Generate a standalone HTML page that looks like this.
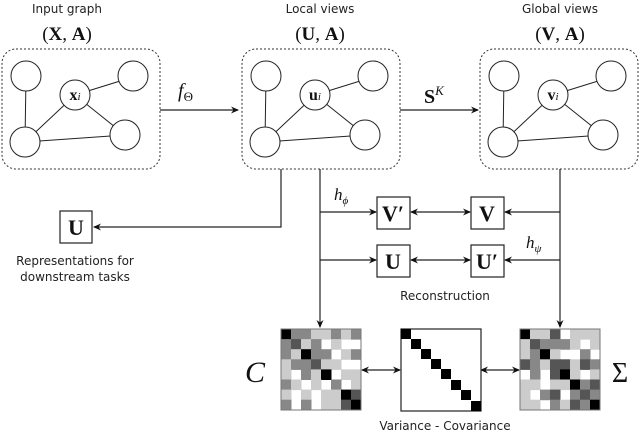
<!DOCTYPE html>
<html><head><meta charset="utf-8"><style>
body{margin:0;background:#fff}
svg{display:block}
.s{font-family:"DejaVu Sans","Liberation Sans",sans-serif;font-size:12px;fill:#222}
.m{font-family:"Liberation Serif",serif;fill:#111}
.k0{fill:#000}.k1{fill:#555}.k2{fill:#888}.k3{fill:#ccc}
</style></head><body>
<svg width="640" height="431" viewBox="0 0 640 431" xmlns="http://www.w3.org/2000/svg">
<defs>
<marker id="a" markerWidth="8" markerHeight="8" refX="7" refY="4" orient="auto-start-reverse" markerUnits="userSpaceOnUse"><path d="M0,0.5 L8,4 L0,7.5 L2.5,4z" fill="#111"/></marker>
<g id="g">
<rect x="2" y="49" width="158" height="120" rx="14" fill="none" stroke="#333" stroke-dasharray="2,2"/>
<g stroke="#222" fill="none">
<line x1="26" y1="76" x2="25" y2="142"/>
<line x1="25" y1="142" x2="75" y2="95"/>
<line x1="25" y1="142" x2="125" y2="135"/>
<line x1="75" y1="95" x2="125" y2="135"/>
<line x1="75" y1="95" x2="133" y2="77"/>
</g>
<g stroke="#222" fill="#fff">
<circle cx="26" cy="76" r="15"/><circle cx="133" cy="76" r="15"/><circle cx="75" cy="95" r="15"/><circle cx="25" cy="142" r="15"/><circle cx="125" cy="135" r="15"/>
</g>
</g>
</defs>
<text class="s" x="67" y="13" text-anchor="middle">Input graph</text>
<text class="s" x="320" y="13" text-anchor="middle">Local views</text>
<text class="s" x="560" y="13" text-anchor="middle">Global views</text>
<text class="m" x="67" y="40" text-anchor="middle" font-size="19">(<tspan font-weight="bold">X</tspan>, <tspan font-weight="bold">A</tspan>)</text>
<text class="m" x="320" y="40" text-anchor="middle" font-size="19">(<tspan font-weight="bold">U</tspan>, <tspan font-weight="bold">A</tspan>)</text>
<text class="m" x="560" y="40" text-anchor="middle" font-size="19">(<tspan font-weight="bold">V</tspan>, <tspan font-weight="bold">A</tspan>)</text>
<use href="#g"/>
<use href="#g" x="240"/>
<use href="#g" x="478"/>
<text class="m" x="75" y="100" text-anchor="middle" font-size="16"><tspan font-weight="bold">x</tspan><tspan font-style="italic" font-size="11">i</tspan></text>
<text class="m" x="315" y="100" text-anchor="middle" font-size="16"><tspan font-weight="bold">u</tspan><tspan font-style="italic" font-size="11">i</tspan></text>
<text class="m" x="553" y="100" text-anchor="middle" font-size="16"><tspan font-weight="bold">v</tspan><tspan font-style="italic" font-size="11">i</tspan></text>
<g stroke="#222" fill="none" stroke-width="1.2">
<line x1="160" y1="110" x2="238" y2="110" marker-end="url(#a)"/>
<line x1="400" y1="110" x2="478" y2="110" marker-end="url(#a)"/>
<polyline points="281,169 281,227 94,227" marker-end="url(#a)"/>
<line x1="320" y1="169" x2="320" y2="327" marker-end="url(#a)"/>
<line x1="560" y1="169" x2="560" y2="327" marker-end="url(#a)"/>
<line x1="320" y1="212" x2="376" y2="212" marker-end="url(#a)"/>
<line x1="320" y1="260" x2="376" y2="260" marker-end="url(#a)"/>
<line x1="560" y1="212" x2="505" y2="212" marker-end="url(#a)"/>
<line x1="560" y1="260" x2="505" y2="260" marker-end="url(#a)"/>
<line x1="411" y1="212" x2="470" y2="212" marker-start="url(#a)" marker-end="url(#a)"/>
<line x1="411" y1="260" x2="470" y2="260" marker-start="url(#a)" marker-end="url(#a)"/>
<line x1="362" y1="370" x2="400" y2="370" marker-start="url(#a)" marker-end="url(#a)"/>
<line x1="481" y1="370" x2="519" y2="370" marker-start="url(#a)" marker-end="url(#a)"/>
</g>
<text class="m" x="178" y="97" font-size="20" font-style="italic">f<tspan font-size="13" font-style="normal" dy="4">Θ</tspan></text>
<text class="m" x="424" y="103" font-size="20" font-weight="bold">S<tspan font-size="13" font-style="italic" font-weight="normal" dy="-8">K</tspan></text>
<text class="m" x="334" y="200" font-size="17" font-style="italic">h<tspan font-size="11" dy="4">ϕ</tspan></text>
<text class="m" x="526" y="248" font-size="17" font-style="italic">h<tspan font-size="11" dy="4">ψ</tspan></text>
<g stroke="#222" fill="#fff" stroke-width="1.2">
<rect x="60" y="211" width="32" height="32"/>
<rect x="377" y="197" width="33" height="32"/>
<rect x="471" y="197" width="33" height="32"/>
<rect x="377" y="245" width="33" height="32"/>
<rect x="471" y="245" width="33" height="32"/>
</g>
<g class="m" font-size="22" font-weight="bold" text-anchor="middle">
<text x="76" y="235">U</text>
<text x="393" y="221">V′</text>
<text x="487" y="221">V</text>
<text x="393" y="269">U</text>
<text x="487" y="269">U′</text>
</g>
<text class="s" x="75" y="265" text-anchor="middle">Representations for</text>
<text class="s" x="75" y="281" text-anchor="middle">downstream tasks</text>
<text class="s" x="445" y="300" text-anchor="middle">Reconstruction</text>
<text class="s" x="445" y="430" text-anchor="middle">Variance - Covariance</text>
<text class="m" x="255" y="382" font-size="30" font-style="italic" text-anchor="middle">C</text>
<text class="m" x="620" y="382" font-size="28" text-anchor="middle">Σ</text>

<g transform="translate(281,329) scale(10,10.1)">
<rect class="k0" x="0" y="0" width="1.05" height="1.05"/><rect class="k2" x="1" y="0" width="1.05" height="1.05"/><rect class="k2" x="2" y="0" width="1.05" height="1.05"/><rect class="k3" x="3" y="0" width="1.05" height="1.05"/><rect class="k3" x="4" y="0" width="1.05" height="1.05"/><rect class="k2" x="5" y="0" width="1.05" height="1.05"/><rect class="k3" x="6" y="0" width="1.05" height="1.05"/><rect class="k2" x="7" y="0" width="1" height="1.05"/>
<rect class="k2" x="0" y="1" width="1.05" height="1.05"/><rect class="k1" x="1" y="1" width="1.05" height="1.05"/><rect class="k3" x="2" y="1" width="1.05" height="1.05"/><rect class="k2" x="3" y="1" width="1.05" height="1.05"/><rect class="k3" x="5" y="1" width="1.05" height="1.05"/>
<rect class="k2" x="0" y="2" width="1.05" height="1.05"/><rect class="k3" x="1" y="2" width="1.05" height="1.05"/><rect class="k0" x="2" y="2" width="1.05" height="1.05"/><rect class="k2" x="3" y="2" width="1.05" height="1.05"/><rect class="k2" x="4" y="2" width="1.05" height="1.05"/><rect class="k3" x="6" y="2" width="1.05" height="1.05"/><rect class="k2" x="7" y="2" width="1" height="1.05"/>
<rect class="k3" x="0" y="3" width="1.05" height="1.05"/><rect class="k2" x="1" y="3" width="1.05" height="1.05"/><rect class="k2" x="2" y="3" width="1.05" height="1.05"/><rect class="k1" x="3" y="3" width="1.05" height="1.05"/><rect class="k3" x="4" y="3" width="1.05" height="1.05"/><rect class="k3" x="5" y="3" width="1.05" height="1.05"/>
<rect class="k3" x="0" y="4" width="1.05" height="1.05"/><rect class="k2" x="2" y="4" width="1.05" height="1.05"/><rect class="k3" x="3" y="4" width="1.05" height="1.05"/><rect class="k0" x="4" y="4" width="1.05" height="1.05"/><rect class="k3" x="6" y="4" width="1.05" height="1.05"/><rect class="k3" x="7" y="4" width="1" height="1.05"/>
<rect class="k2" x="0" y="5" width="1.05" height="1.05"/><rect class="k3" x="1" y="5" width="1.05" height="1.05"/><rect class="k3" x="3" y="5" width="1.05" height="1.05"/><rect class="k2" x="5" y="5" width="1.05" height="1.05"/><rect class="k3" x="7" y="5" width="1" height="1.05"/>
<rect class="k3" x="0" y="6" width="1.05" height="1.05"/><rect class="k3" x="2" y="6" width="1.05" height="1.05"/><rect class="k3" x="4" y="6" width="1.05" height="1.05"/><rect class="k3" x="5" y="6" width="1.05" height="1.05"/><rect class="k0" x="6" y="6" width="1.05" height="1.05"/><rect class="k1" x="7" y="6" width="1" height="1.05"/>
<rect class="k2" x="0" y="7" width="1.05" height="1"/><rect class="k2" x="2" y="7" width="1.05" height="1"/><rect class="k3" x="4" y="7" width="1.05" height="1"/><rect class="k3" x="5" y="7" width="1.05" height="1"/><rect class="k1" x="6" y="7" width="1.05" height="1"/><rect class="k0" x="7" y="7" width="1" height="1"/>
</g>
<rect x="281" y="329" width="80" height="81" fill="none" stroke="#777"/>

<g transform="translate(520,329) scale(10,10.1)">
<rect class="k0" x="0" y="0" width="1.05" height="1.05"/><rect class="k3" x="1" y="0" width="1.05" height="1.05"/><rect class="k3" x="2" y="0" width="1.05" height="1.05"/><rect class="k1" x="3" y="0" width="1.05" height="1.05"/><rect class="k3" x="5" y="0" width="1.05" height="1.05"/><rect class="k3" x="6" y="0" width="1.05" height="1.05"/><rect class="k3" x="7" y="0" width="1" height="1.05"/>
<rect class="k3" x="0" y="1" width="1.05" height="1.05"/><rect class="k1" x="1" y="1" width="1.05" height="1.05"/><rect class="k2" x="2" y="1" width="1.05" height="1.05"/><rect class="k2" x="3" y="1" width="1.05" height="1.05"/><rect class="k2" x="4" y="1" width="1.05" height="1.05"/><rect class="k3" x="5" y="1" width="1.05" height="1.05"/><rect class="k3" x="7" y="1" width="1" height="1.05"/>
<rect class="k3" x="0" y="2" width="1.05" height="1.05"/><rect class="k2" x="1" y="2" width="1.05" height="1.05"/><rect class="k0" x="2" y="2" width="1.05" height="1.05"/><rect class="k3" x="3" y="2" width="1.05" height="1.05"/><rect class="k2" x="6" y="2" width="1.05" height="1.05"/>
<rect class="k1" x="0" y="3" width="1.05" height="1.05"/><rect class="k2" x="1" y="3" width="1.05" height="1.05"/><rect class="k3" x="2" y="3" width="1.05" height="1.05"/><rect class="k1" x="3" y="3" width="1.05" height="1.05"/><rect class="k1" x="4" y="3" width="1.05" height="1.05"/><rect class="k3" x="5" y="3" width="1.05" height="1.05"/><rect class="k1" x="6" y="3" width="1.05" height="1.05"/><rect class="k2" x="7" y="3" width="1" height="1.05"/>
<rect class="k2" x="1" y="4" width="1.05" height="1.05"/><rect class="k1" x="3" y="4" width="1.05" height="1.05"/><rect class="k0" x="4" y="4" width="1.05" height="1.05"/><rect class="k3" x="5" y="4" width="1.05" height="1.05"/><rect class="k3" x="7" y="4" width="1" height="1.05"/>
<rect class="k3" x="0" y="5" width="1.05" height="1.05"/><rect class="k3" x="1" y="5" width="1.05" height="1.05"/><rect class="k3" x="3" y="5" width="1.05" height="1.05"/><rect class="k3" x="4" y="5" width="1.05" height="1.05"/><rect class="k0" x="5" y="5" width="1.05" height="1.05"/><rect class="k2" x="6" y="5" width="1.05" height="1.05"/><rect class="k1" x="7" y="5" width="1" height="1.05"/>
<rect class="k3" x="0" y="6" width="1.05" height="1.05"/><rect class="k2" x="2" y="6" width="1.05" height="1.05"/><rect class="k1" x="3" y="6" width="1.05" height="1.05"/><rect class="k2" x="5" y="6" width="1.05" height="1.05"/><rect class="k1" x="6" y="6" width="1.05" height="1.05"/><rect class="k2" x="7" y="6" width="1" height="1.05"/>
<rect class="k3" x="0" y="7" width="1.05" height="1"/><rect class="k3" x="1" y="7" width="1.05" height="1"/><rect class="k2" x="3" y="7" width="1.05" height="1"/><rect class="k3" x="4" y="7" width="1.05" height="1"/><rect class="k1" x="5" y="7" width="1.05" height="1"/><rect class="k2" x="6" y="7" width="1.05" height="1"/><rect class="k0" x="7" y="7" width="1" height="1"/>
</g>
<rect x="520" y="329" width="80" height="81" fill="none" stroke="#777"/>

<rect x="401" y="329" width="80" height="82" fill="#fff" stroke="#222" stroke-width="1.2"/>
<g fill="#000">
<rect x="401" y="329" width="10" height="10"/><rect x="411" y="339" width="10" height="10"/><rect x="421" y="349" width="10" height="10"/><rect x="431" y="359" width="10" height="10"/><rect x="441" y="369" width="10" height="10"/><rect x="451" y="380" width="10" height="10"/><rect x="461" y="390" width="10" height="10"/><rect x="471" y="401" width="10" height="10"/>
</g>
</svg>
</body></html>
